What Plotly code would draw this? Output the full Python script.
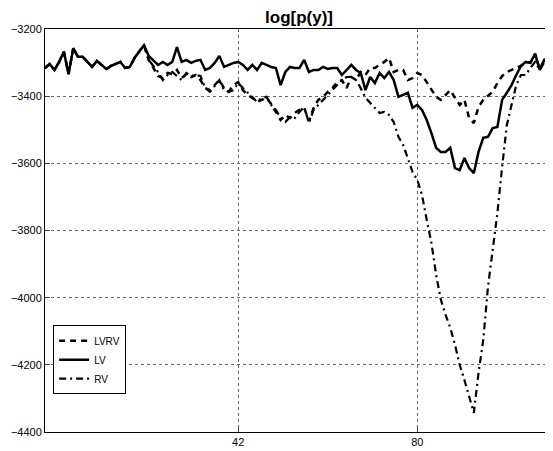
import plotly.graph_objects as go

x = list(range(1, 109))

lv = [-3316, -3304, -3322, -3298, -3268, -3334, -3257, -3283, -3283, -3298,
      -3313, -3295, -3307, -3319, -3310, -3304, -3298, -3316, -3313, -3286,
      -3268, -3248, -3280, -3295, -3307, -3298, -3307, -3298, -3254, -3298,
      -3292, -3301, -3295, -3292, -3322, -3316, -3301, -3280, -3313, -3307,
      -3301, -3298, -3307, -3322, -3307, -3322, -3301, -3307, -3313, -3316,
      -3367, -3328, -3313, -3316, -3316, -3292, -3328, -3322, -3322, -3313,
      -3319, -3316, -3316, -3337, -3322, -3307, -3322, -3331, -3382, -3343,
      -3361, -3331, -3346, -3328, -3352, -3402, -3396, -3390, -3435, -3426,
      -3441, -3471, -3510, -3554, -3566, -3566, -3554, -3614, -3620, -3584,
      -3614, -3629, -3566, -3524, -3521, -3495, -3492, -3411, -3390, -3367,
      -3337, -3310, -3298, -3301, -3274, -3322, -3289, -3310]

lvrv = lv[:22] + [
      -3292, -3316, -3340, -3346, -3331, -3334, -3322, -3346,
      -3334, -3343, -3337, -3352, -3376, -3382, -3367, -3352, -3376, -3387,
      -3367, -3358, -3382, -3396, -3405, -3417, -3411, -3405, -3423, -3447,
      -3471, -3456, -3465, -3450, -3441, -3435, -3474, -3435, -3411, -3402,
      -3387, -3376, -3358, -3352, -3376, -3343, -3352, -3328, -3337, -3316,
      -3316, -3307, -3298, -3286, -3328, -3322, -3322, -3352, -3346, -3331,
      -3337, -3358, -3382, -3402, -3411, -3396, -3382, -3405, -3426, -3411,
      -3465, -3480, -3432, -3411, -3399, -3387, -3361, -3340, -3328, -3322,
      -3316, -3310] + lv[102:]

rv = lv[:22] + [
      -3292, -3310, -3328, -3352, -3337, -3328, -3340, -3352,
      -3331, -3340, -3337, -3340, -3376, -3387, -3370, -3352, -3382, -3387,
      -3382, -3361, -3376, -3390, -3402, -3417, -3405, -3402, -3426, -3441,
      -3465, -3477, -3462, -3465, -3447, -3432, -3480, -3441, -3426, -3411,
      -3396, -3382, -3367, -3352, -3343, -3343, -3352, -3376, -3405, -3420,
      -3432, -3450, -3447, -3456, -3477, -3521, -3545, -3584, -3626, -3649,
      -3694, -3768, -3837, -3932, -4006, -4051, -4090, -4140, -4200, -4245,
      -4298, -4343, -4224, -4126, -3968, -3858, -3748, -3611, -3486, -3426,
      -3367, -3337, -3337, -3316, -3298, -3322, -3298, -3310]

xticks = [42, 80]
yticks = [-3200, -3400, -3600, -3800, -4000, -4200, -4400]

fig = go.Figure()
fig.add_trace(go.Scatter(x=x, y=lvrv, name="LVRV", mode="lines",
                         line=dict(color="black", width=2.5, dash="6px,5px")))
fig.add_trace(go.Scatter(x=x, y=lv, name="LV", mode="lines",
                         line=dict(color="black", width=2.5)))
fig.add_trace(go.Scatter(x=x, y=rv, name="RV", mode="lines",
                         line=dict(color="black", width=2.2, dash="7px,4px,2px,4px")))

font = "Liberation Sans, Arial, sans-serif"
# page body has an 8px margin, so the figure is sized to the visible area
fig.update_layout(
    width=545, height=443,
    margin=dict(l=37, r=0, t=21, b=19, autoexpand=False),
    paper_bgcolor="white", plot_bgcolor="white",
    title=dict(text="<b>log[p(y)]</b>", x=0.534, xanchor="center", y=0.993, yanchor="top",
               pad=dict(t=0, b=0),
               font=dict(family=font, size=17, color="black")),
    font=dict(family=font, size=11, color="black"),
    showlegend=True,
    legend=dict(x=0.016, y=0.265, xanchor="left", yanchor="top",
                bgcolor="white", bordercolor="black", borderwidth=1,
                font=dict(size=10), tracegroupgap=0, itemwidth=30),
)
fig.update_xaxes(range=[1, 108.8], tickvals=xticks, ticks="inside", ticklen=5,
                 showline=True, linecolor="black", linewidth=1, mirror=True,
                 showgrid=True, gridcolor="#666", griddash="dot", gridwidth=1,
                 zeroline=False, tickfont=dict(size=11), automargin=False)
fig.update_yaxes(range=[-4400, -3200], tickvals=yticks, ticks="inside", ticklen=5,
                 showline=True, linecolor="black", linewidth=1, mirror=True,
                 showgrid=True, gridcolor="#666", griddash="dot", gridwidth=1,
                 zeroline=False, tickfont=dict(size=11), automargin=False)

fig.write_html("out.html")
